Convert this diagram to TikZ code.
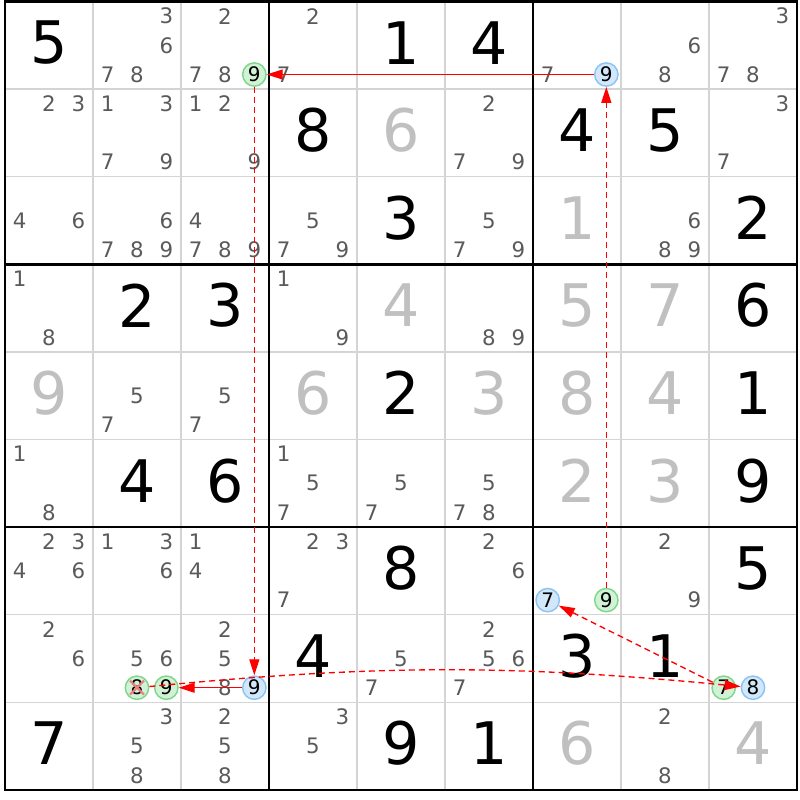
\documentclass[tikz,border=0pt]{standalone}
\usepackage{fontspec}
\setmainfont{DejaVu Sans}
\usetikzlibrary{arrows.meta}
\definecolor{candc}{HTML}{5A5A5A}
\definecolor{solvc}{HTML}{C0C0C0}
\definecolor{thinc}{HTML}{D4D4D4}
\definecolor{bluef}{HTML}{D2E8FA}
\definecolor{blued}{HTML}{8CC4F4}
\definecolor{greenf}{HTML}{D2F2D6}
\definecolor{greend}{HTML}{7ED88C}
\definecolor{xred}{HTML}{EC8080}
\tikzset{
 cand/.style={inner sep=0pt, text=candc, font=\fontsize{16}{18}\selectfont},
 given/.style={inner sep=0pt, text=black, font=\fontsize{44}{48}\selectfont},
 solved/.style={given, text=solvc},
 hl/.style={circle, inner sep=0pt, minimum size=17.5pt, line width=1.1pt, text=black, font=\fontsize{15}{17}\selectfont},
 hlblue/.style={hl, draw=blued, fill=bluef},
 hlgreen/.style={hl, draw=greend, fill=greenf},
 link/.style={draw=red, line width=1pt, -{Triangle[length=12pt,width=7.5pt]}},
 weak/.style={link, dash pattern=on 4.5pt off 3pt},
 thinline/.style={draw=thinc, line width=1.1pt},
 thickline/.style={draw=black, line width=2pt},
 xmark/.style={draw=xred, line width=1.6pt},
}
\newcommand\cands[3]{%
 \foreach \d in {#3}{%
  \pgfmathsetmacro\cx{5+88*#2+88*(2*mod(\d-1,3)+1)/6}%
  \pgfmathsetmacro\cy{1.5+87.6*#1+87.6*(2*floor((\d-1)/3)+1)/6}%
  \node[cand] (k#1#2\d) at (\cx,\cy) {\d};}}
\newcommand\hcand[4]{%
  \pgfmathsetmacro\cx{5+88*#2+88*(2*mod(#3-1,3)+1)/6}%
  \pgfmathsetmacro\cy{1.5+87.6*#1+87.6*(2*floor((#3-1)/3)+1)/6}%
  \node[#4] (k#1#2#3) at (\cx,\cy) {#3};}
\newcommand\bigd[4]{\node[#4] (g#1#2) at ({5+88*#2+44},{1.5+87.6*#1+43.8-2.5}) {#3};}
\begin{document}
\begin{tikzpicture}[x=0.75pt,y=-0.75pt]
\useasboundingbox (0,0) rectangle (800,800);
\fill[white] (0,0) rectangle (800,800);
% grid
\foreach \k in {1,2,4,5,7,8}{
  \draw[thinline] ({5+88*\k},1.5) -- ({5+88*\k},790);
  \draw[thinline] (5,{1.5+87.6*\k}) -- (797,{1.5+87.6*\k});
}
\foreach \k in {3,6}{
  \draw[thickline] ({5+88*\k},1.5) -- ({5+88*\k},790);
  \draw[thickline] (5,{1.5+87.6*\k}) -- (797,{1.5+87.6*\k});
}
\draw[thickline] (5,1.5) rectangle (797,790);
% row 0
\bigd{0}{0}{5}{given}
\cands{0}{1}{3,6,7,8}
\cands{0}{2}{2,7,8} \hcand{0}{2}{9}{hlgreen}
\cands{0}{3}{2,7}
\bigd{0}{4}{1}{given}
\bigd{0}{5}{4}{given}
\cands{0}{6}{7} \hcand{0}{6}{9}{hlblue}
\cands{0}{7}{6,8}
\cands{0}{8}{3,7,8}
% row 1
\cands{1}{0}{2,3}
\cands{1}{1}{1,3,7,9}
\cands{1}{2}{1,2,9}
\bigd{1}{3}{8}{given}
\bigd{1}{4}{6}{solved}
\cands{1}{5}{2,7,9}
\bigd{1}{6}{4}{given}
\bigd{1}{7}{5}{given}
\cands{1}{8}{3,7}
% row 2
\cands{2}{0}{4,6}
\cands{2}{1}{6,7,8,9}
\cands{2}{2}{4,7,8,9}
\cands{2}{3}{5,7,9}
\bigd{2}{4}{3}{given}
\cands{2}{5}{5,7,9}
\bigd{2}{6}{1}{solved}
\cands{2}{7}{6,8,9}
\bigd{2}{8}{2}{given}
% row 3
\cands{3}{0}{1,8}
\bigd{3}{1}{2}{given}
\bigd{3}{2}{3}{given}
\cands{3}{3}{1,9}
\bigd{3}{4}{4}{solved}
\cands{3}{5}{8,9}
\bigd{3}{6}{5}{solved}
\bigd{3}{7}{7}{solved}
\bigd{3}{8}{6}{given}
% row 4
\bigd{4}{0}{9}{solved}
\cands{4}{1}{5,7}
\cands{4}{2}{5,7}
\bigd{4}{3}{6}{solved}
\bigd{4}{4}{2}{given}
\bigd{4}{5}{3}{solved}
\bigd{4}{6}{8}{solved}
\bigd{4}{7}{4}{solved}
\bigd{4}{8}{1}{given}
% row 5
\cands{5}{0}{1,8}
\bigd{5}{1}{4}{given}
\bigd{5}{2}{6}{given}
\cands{5}{3}{1,5,7}
\cands{5}{4}{5,7}
\cands{5}{5}{5,7,8}
\bigd{5}{6}{2}{solved}
\bigd{5}{7}{3}{solved}
\bigd{5}{8}{9}{given}
% row 6
\cands{6}{0}{2,3,4,6}
\cands{6}{1}{1,3,6}
\cands{6}{2}{1,4}
\cands{6}{3}{2,3,7}
\bigd{6}{4}{8}{given}
\cands{6}{5}{2,6}
\hcand{6}{6}{7}{hlblue} \hcand{6}{6}{9}{hlgreen}
\cands{6}{7}{2,9}
\bigd{6}{8}{5}{given}
% row 7
\cands{7}{0}{2,6}
\cands{7}{1}{5,6} \hcand{7}{1}{8}{hlgreen} \hcand{7}{1}{9}{hlgreen}
\cands{7}{2}{2,5,8} \hcand{7}{2}{9}{hlblue}
\bigd{7}{3}{4}{given}
\cands{7}{4}{5,7}
\cands{7}{5}{2,5,6,7}
\bigd{7}{6}{3}{given}
\bigd{7}{7}{1}{given}
\hcand{7}{8}{7}{hlgreen} \hcand{7}{8}{8}{hlblue}
% row 8
\bigd{8}{0}{7}{given}
\cands{8}{1}{3,5,8}
\cands{8}{2}{2,5,8}
\cands{8}{3}{3,5}
\bigd{8}{4}{9}{given}
\bigd{8}{5}{1}{given}
\bigd{8}{6}{6}{solved}
\cands{8}{7}{2,8}
\bigd{8}{8}{4}{solved}
% links
\draw[link] (k069) -- (k029);
\draw[weak] (k029) -- (k729);
\draw[weak] (k669) -- (k069);
\draw[link] (k729) -- (k719);
\draw[weak] (k718) to[bend left=5.5] (k788);
\draw[weak] (k787) -- (k667);
% elimination mark
\draw[xmark] ([shift={(-7,-7)}]k718.center) -- ([shift={(7,7)}]k718.center);
\draw[xmark] ([shift={(-7,7)}]k718.center) -- ([shift={(7,-7)}]k718.center);
\end{tikzpicture}
\end{document}
